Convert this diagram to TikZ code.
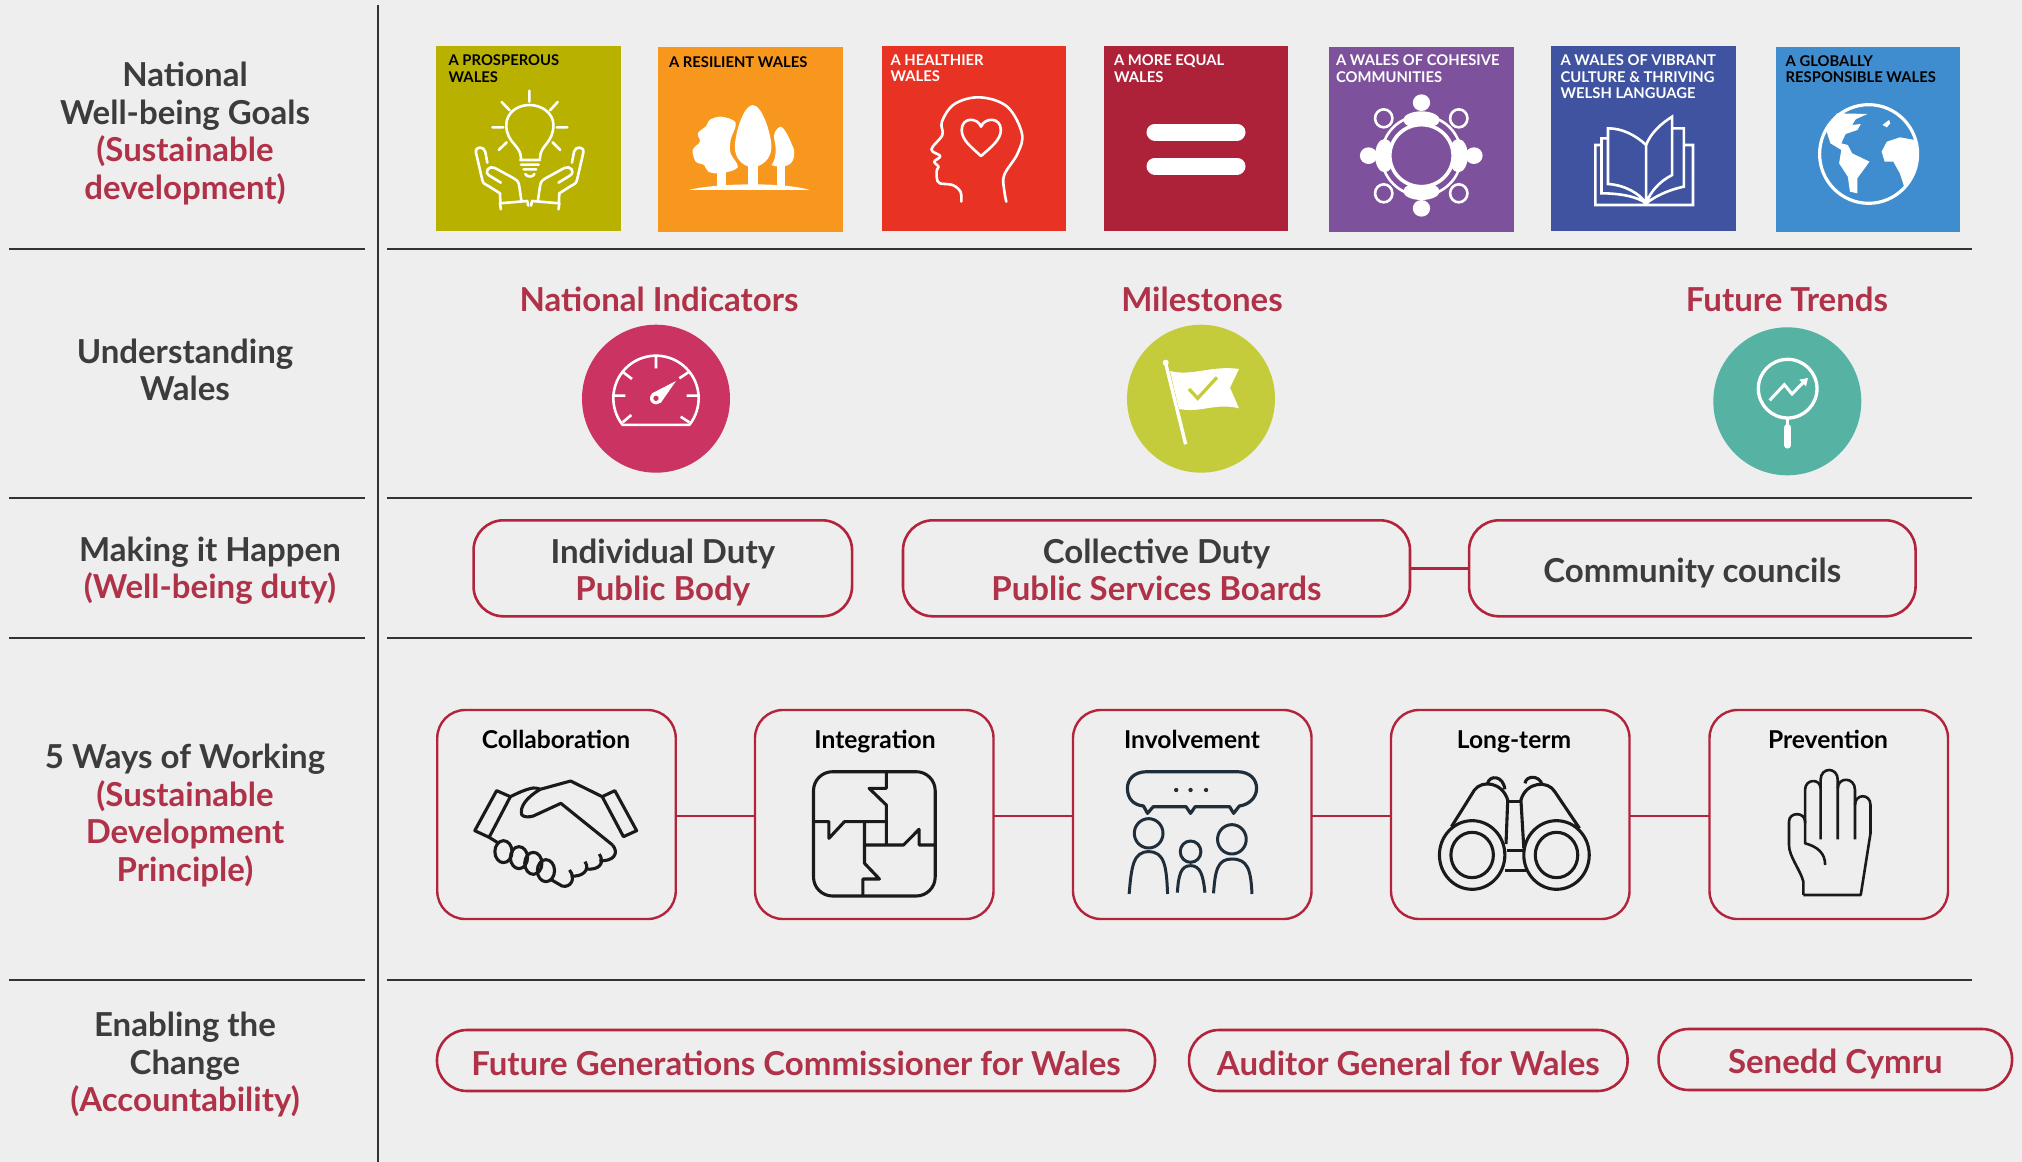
\documentclass[tikz,border=0pt]{standalone}
\usepackage{fontspec}
\setmainfont{Lato}
\definecolor{bg}{HTML}{EEEEEE}
\definecolor{ink}{HTML}{3C3C3C}
\definecolor{wine}{HTML}{B03248}
\definecolor{edgeRed}{HTML}{B2243C}
\definecolor{rulec}{HTML}{333333}
\definecolor{gA}{HTML}{B9B100}
\definecolor{gB}{HTML}{F7971D}
\definecolor{gC}{HTML}{E83324}
\definecolor{gD}{HTML}{AD2239}
\definecolor{gE}{HTML}{7D519B}
\definecolor{gF}{HTML}{3F53A1}
\definecolor{gG}{HTML}{3F8DCE}
\definecolor{cA}{HTML}{CB3362}
\definecolor{cB}{HTML}{C4CC3B}
\definecolor{cC}{HTML}{56B2A3}
\definecolor{iconDark}{HTML}{1A1A1A}
\definecolor{iconBlue}{HTML}{1F2E3A}
\newcommand{\onestrut}{\rule[-5pt]{0pt}{39pt}}
\newcommand{\topstrut}{\rule{0pt}{33pt}}
\newcommand{\botstrut}{\rule[-5pt]{0pt}{5pt}}
\tikzset{
  rowlabel/.style={align=center,inner sep=0pt,outer sep=0pt,text=ink,font=\bfseries\fontsize{33}{37.4}\selectfont},
  headlabel/.style={inner sep=0pt,text=wine,font=\bfseries\fontsize{33}{36}\selectfont},
  duty/.style={draw=edgeRed,line width=2.6pt,rounded corners=30pt,inner sep=0pt,outer sep=0pt,minimum height=96pt,align=center,text=ink,font=\bfseries\fontsize{33}{37}\selectfont},
  pill/.style={draw=edgeRed,line width=2.6pt,rounded corners=30pt,inner sep=0pt,outer sep=0pt,minimum height=61pt,text=wine,font=\bfseries\fontsize{33}{36}\selectfont},
  way/.style={draw=edgeRed,line width=2.4pt,rounded corners=28pt,inner sep=0pt,outer sep=0pt,minimum width=238.5pt,minimum height=209pt},
  waylabel/.style={anchor=base,inner sep=0pt,text=black,font=\bfseries\fontsize{24.6}{28}\selectfont},
  link/.style={edgeRed,line width=2.4pt},
  divider/.style={rulec,line width=1.3pt},
  goal/.style={inner sep=0pt,outer sep=0pt,minimum height=185pt},
  goaltext/.style={anchor=north west,align=left,inner sep=0pt,outer sep=0pt,font=\bfseries\fontsize{14.8}{16.7}\selectfont},
  disc/.style={circle,inner sep=0pt,outer sep=0pt,minimum size=148pt},
  wl/.style={white,line width=2.6pt,line cap=round,line join=round},
  dl/.style={iconDark,line width=3.1pt,line join=round},
  bl/.style={iconBlue,line width=3pt,line join=round},
  zoomA/.style={shift={(420,30)},xscale=.4209,yscale=.3333},
  zoomB/.style={shift={(1310,30)},xscale=.4337,yscale=.3333},
  zoomC/.style={shift={(430,700)},xscale=.574,yscale=.3333},
  zoomD/.style={shift={(1060,700)},xscale=.574,yscale=.3333},
}
\newcommand{\handpath}{%
  \draw[wl] (160,398) -- (155,365) .. controls (152,348) and (130,348) .. (133,368) -- (148,450) .. controls (150,462) and (155,462) .. (165,470) -- (190,490) -- (191,518);
  \draw[wl] (192,538) -- (190,520) -- (255,513) -- (257,527);
  \draw[wl] (241,513) -- (236,470) .. controls (235,455) and (230,450) .. (220,443) -- (178,414) .. controls (165,405) and (150,425) .. (165,437) -- (192,458);
}
\begin{document}
\begin{tikzpicture}[x=1pt,y=-1pt]
\useasboundingbox (0,0) rectangle (2022,1162);
\fill[bg] (0,0) rectangle (2022,1162);

% rules
\draw[rulec,line width=1.6pt] (378,5) -- (378,1162);
\foreach \yy in {249,498,638,980}{
  \draw[divider] (9,\yy) -- (365,\yy);
  \draw[divider] (387,\yy) -- (1972,\yy);
}

% row labels
\node[rowlabel] (r1) at (185,133.5) {National\\Well-being Goals\\\textcolor{wine}{(Sustainable}\\\textcolor{wine}{development)}};
\node[rowlabel] (r2) at (185,370) {Understanding\\Wales};
\node[rowlabel] (r3) at (210,570.5) {Making it Happen\\\textcolor{wine}{(Well-being duty)}};
\node[rowlabel] (r4) at (185,815.5) {5 Ways of Working\\\textcolor{wine}{(Sustainable}\\\textcolor{wine}{Development}\\\textcolor{wine}{Principle)}};
\node[rowlabel] (r5) at (185,1064.5) {Enabling the\\Change\\\textcolor{wine}{(Accountability)}};

% goals
\node[goal,fill=gA,minimum width=185pt] (g1) at (528.5,138.5) {};
\node[goal,fill=gB,minimum width=185pt] (g2) at (750.5,139.5) {};
\node[goal,fill=gC,minimum width=184pt] (g3) at (974,138.5) {};
\node[goal,fill=gD,minimum width=184pt] (g4) at (1196,138.5) {};
\node[goal,fill=gE,minimum width=185pt] (g5) at (1421.5,139.5) {};
\node[goal,fill=gF,minimum width=185pt] (g6) at (1643.8,138.5) {};
\node[goal,fill=gG,minimum width=184pt] (g7) at (1868,139.5) {};
\node[goaltext,text=black] (t1) at (448.6,54.5) {A PROSPEROUS\\WALES};
\node[goaltext,text=black] (t2) at (669,56.3) {A RESILIENT WALES};
\node[goaltext,text=white] (t3) at (890.5,54.5) {A HEALTHIER\\WALES};
\node[goaltext,text=white] (t4) at (1114,54.5) {A MORE EQUAL\\WALES};
\node[goaltext,text=white] (t5) at (1336,54.5) {A WALES OF COHESIVE\\COMMUNITIES};
\node[goaltext,text=white] (t6) at (1560.6,54.5) {A WALES OF VIBRANT\\CULTURE \& THRIVING\\WELSH LANGUAGE};
\node[goaltext,text=black] (t7) at (1785.7,55.3) {A GLOBALLY\\RESPONSIBLE WALES};

% icon: bulb and hands
\begin{scope}[zoomA]
  \draw[wl] (260,182) -- (260,215) (194,216) -- (213,241) (327,216) -- (309,241) (172,292) -- (198,292) (325,292) -- (350,292) (187,360) -- (206,337) (333,360) -- (315,337);
  \draw[wl] (240,385) .. controls (240,345) and (205,340) .. (205,285) .. controls (205,250) and (230,225) .. (260,225) .. controls (290,225) and (317,250) .. (317,285) .. controls (317,340) and (285,345) .. (285,385);
  \draw[wl] (238,390) -- (285,390) (240,404) -- (282,404) (246,418) -- (276,418) (250,432) .. controls (254,442) and (268,442) .. (272,432);
  \handpath
  \begin{scope}[shift={(521,0)},xscale=-1]\handpath\end{scope}
  % trees
  \fill[white] (638,480) .. controls (700,460) and (860,455) .. (926,480) -- cycle;
  \fill[white] (790,225) .. controls (765,230) and (748,320) .. (748,350) .. controls (748,390) and (770,410) .. (790,412) .. controls (810,410) and (835,390) .. (835,350) .. controls (835,320) and (815,225) .. (790,225) -- cycle;
  \fill[white] (780,405) rectangle (802,465);
  \fill[white] (856,290) .. controls (845,295) and (838,315) .. (842,330) .. controls (848,360) and (845,390) .. (835,405) .. controls (845,412) and (865,412) .. (875,405) .. controls (892,395) and (892,360) .. (884,345) .. controls (878,325) and (865,290) .. (856,290) -- cycle;
  \fill[white] (848,405) rectangle (866,470);
  \fill[white] plot[smooth cycle,tension=.55] coordinates {(750,278) (715,260) (688,270) (680,288) (660,310) (665,335) (648,360) (655,395) (675,405) (685,425) (715,430) (755,412) (738,370) (738,330)};
  \fill[white] (706,425) rectangle (727,468);
  % head
  \draw[wl] plot[smooth,tension=.6] coordinates {(1286,515) (1284,485) (1265,465) (1235,460) (1228,445) (1228,420) (1232,410) (1222,395) (1236,378) (1215,358) (1241,315) (1240,275) (1270,222) (1330,202) (1395,230) (1430,310) (1420,370) (1388,435) (1388,480) (1393,515)};
  \draw[wl] (1333,378) .. controls (1310,352) and (1287,330) .. (1287,300) .. controls (1287,260) and (1325,262) .. (1333,290) .. controls (1341,262) and (1380,260) .. (1380,300) .. controls (1380,330) and (1356,352) .. (1333,378) -- cycle;
\end{scope}
% icon: equals
\draw[white,line width=17pt,line cap=round] (1155,132) -- (1237,132) (1155,166) -- (1237,166);
\begin{scope}[zoomB]
  % table
  \draw[white,line width=2.6pt] (257,377) ellipse [x radius=92,y radius=120];
  \foreach \cx/\cy/\rx/\ry in {257/270/42/26, 257/484/42/26, 172/377/22/50, 342/377/22/50, 257/218/20/25, 257/535/20/25, 135/377/20/25, 378/377/20/25}{
    \fill[white] (\cx,\cy) ellipse [x radius=\rx,y radius=\ry];
  }
  \draw[white,line width=3.6pt,fill=gE] (257,377) ellipse [x radius=73,y radius=93];
  \foreach \cx/\cy in {170/265,343/265,170/490,343/490}{
    \draw[white,line width=2.6pt,fill=gE] (\cx,\cy) ellipse [x radius=20,y radius=27];
  }
  % book
  \draw[wl,line cap=butt,line join=miter]
    (775,345) .. controls (750,315) and (720,295) .. (687,295) -- (687,462) .. controls (725,465) and (760,490) .. (775,520)
    (775,345) -- (775,520)
    (775,345) .. controls (785,310) and (810,280) .. (835,260) -- (835,435) .. controls (805,455) and (785,485) .. (775,520)
    (687,325) -- (672,325) -- (672,490) .. controls (715,490) and (755,500) .. (775,520)
    (672,345) -- (658,345) -- (658,525) -- (883,525) -- (883,345) -- (862,345)
    (835,295) -- (862,295) -- (862,470) .. controls (825,480) and (795,500) .. (775,520);
  % globe
  \draw[white,line width=3.2pt] (1288,372) ellipse [x radius=113,y radius=148];
  \fill[white] (1215,250) -- (1285,252) -- (1258,268) -- (1250,285) -- (1270,282) -- (1262,300) -- (1235,312) -- (1225,340) -- (1240,345) -- (1250,370) -- (1290,395) -- (1262,445) -- (1262,490) -- (1245,485) -- (1240,440) -- (1220,400) -- (1225,360) -- (1200,340) -- (1190,300) -- cycle;
  \fill[white] (1318,365) -- (1330,335) -- (1360,322) -- (1395,330) -- (1403,372) -- (1395,425) -- (1370,470) -- (1360,430) -- (1345,395) -- (1325,395) -- cycle;
  \fill[white] (1320,285) -- (1335,270) -- (1338,280) -- (1330,292) -- cycle;
\end{scope}

% understanding wales
\node[headlabel] (h1) at (659,299) {National Indicators};
\node[headlabel] (h2) at (1202,299) {Milestones};
\node[headlabel] (h3) at (1787,299) {Future Trends};
\node[disc,fill=cA] (d1) at (656,398.7) {};
\node[disc,fill=cB] (d2) at (1201,398.7) {};
\node[disc,fill=cC] (d3) at (1787.3,401.3) {};
\begin{scope}[shift={(570,315)},scale=.3333]
  \draw[wl,line cap=butt] plot[domain=141.6:398.4,samples=50] ({258+128*cos(\x)},{250+128*sin(\x)}) -- cycle;
  \draw[wl,line cap=butt] (258,125) -- (258,160) (160,172) -- (186,192) (355,172) -- (328,190) (130,242) -- (166,242) (350,242) -- (385,242) (158,322) -- (184,300) (358,322) -- (332,305);
  \fill[white] (258,250) circle [radius=18];
  \fill[white] (246,235) -- (318,198) -- (272,264) -- cycle;
  \fill[cA] (258,250) circle [radius=8];
\end{scope}
\begin{scope}[shift={(1115,315)},scale=.3333]
  \draw[white,line width=3.4pt] (152,145) -- (212,388);
  \fill[white] (152,143) circle [radius=9];
  \fill[white] (165,168) .. controls (230,185) and (290,150) .. (372,162) -- (345,218) -- (372,280) .. controls (300,262) and (260,295) .. (192,282) -- cycle;
  \draw[cB,line width=3.3pt] (222,222) -- (248,250) -- (306,187);
\end{scope}
\begin{scope}[shift={(1702,318)},scale=.3333]
  \draw[white,line width=3.3pt] (257,212) circle [radius=88];
  \draw[white,line width=2.4pt] (257,300) -- (257,330);
  \draw[white,line width=6.5pt,line cap=round] (257,328) -- (257,382);
  \draw[white,line width=3pt] (203,247) -- (247,200) -- (270,228) -- (305,192);
  \fill[white] (318,180) -- (292,185) -- (312,205) -- cycle;
\end{scope}

% making it happen
\node[duty,minimum width=378.5pt] (b1) at (662.8,568.3) {\topstrut Individual Duty\\\textcolor{wine}{Public Body}\botstrut};
\node[duty,minimum width=507pt] (b2) at (1156.5,568.3) {\topstrut Collective Duty\\\textcolor{wine}{Public Services Boards}\botstrut};
\node[duty,minimum width=446.5pt] (b3) at (1692.3,568.3) {\onestrut Community councils};
\draw[link] (b2) -- (b3);

% ways
\node[way] (w1) at (556.5,814.5) {};
\node[way] (w2) at (874.25,814.5) {};
\node[way] (w3) at (1192.25,814.5) {};
\node[way] (w4) at (1510.25,814.5) {};
\node[way] (w5) at (1828.75,814.5) {};
\draw[link] ([yshift=-1.5pt]w1.east) -- ([yshift=-1.5pt]w2.west);
\draw[link] ([yshift=-1.5pt]w2.east) -- ([yshift=-1.5pt]w3.west);
\draw[link] ([yshift=-1.5pt]w3.east) -- ([yshift=-1.5pt]w4.west);
\draw[link] ([yshift=-1.5pt]w4.east) -- ([yshift=-1.5pt]w5.west);
\node[waylabel] (l1) at (556,748.8) {Collaboration};
\node[waylabel] (l2) at (875,748.8) {Integration};
\node[waylabel] (l3) at (1192,748.8) {Involvement};
\node[waylabel] (l4) at (1514,748.8) {Long-term};
\node[waylabel] (l5) at (1828,748.8) {Prevention};

\begin{scope}[zoomC]
  % handshake
  \draw[dl,fill=bg] (116,272) -- (140,290) -- (103,412) -- (78,392) -- cycle;
  \draw[dl,fill=bg] (322,272) -- (300,290) -- (337,410) -- (360,392) -- cycle;
  \draw[dl] (140,290) .. controls (150,282) and (165,268) .. (180,264) .. controls (187,264) and (190,266) .. (192,268);
  \draw[dl] (192,268) -- (245,243) -- (300,290);
  \draw[dl] (192,268) .. controls (170,290) and (155,320) .. (160,345) .. controls (165,352) and (172,352) .. (180,348) -- (228,310) -- (318,435);
  \draw[dl] (318,435) .. controls (330,460) and (320,485) .. (295,482);
  \draw[dl] (295,462) .. controls (305,490) and (295,512) .. (270,507);
  \draw[dl] (270,485) .. controls (280,510) and (265,532) .. (245,528);
  \draw[dl] (243,510) .. controls (255,535) and (245,565) .. (230,558) -- (212,540);
  \draw[dl] (103,412) -- (118,428);
  \foreach \cx/\cy in {128/455,155/473,180/490,202/512}{
    \draw[dl] (\cx,\cy) ellipse [x radius=15,y radius=33];
  }
  % puzzle
  \draw[dl] (795,218) -- (795,265) -- (765,265) -- (795,315) -- (795,432);
  \draw[dl] (668,365) -- (695,365) -- (695,415) -- (722,365) -- (795,365);
  \draw[dl] (757,365) -- (757,490) -- (783,537) -- (754,537) -- (754,585);
  \draw[dl] (757,435) -- (825,435) -- (852,388) -- (852,435) -- (880,435);
  % people
  \draw[bl,line width=3.2pt] (1250,215) -- (1405,215) .. controls (1430,215) and (1440,240) .. (1440,265) .. controls (1440,295) and (1425,315) .. (1410,318) -- (1400,340) -- (1393,320) -- (1333,320) -- (1325,340) -- (1317,320) -- (1260,320) -- (1250,340) -- (1243,318) .. controls (1225,315) and (1215,295) .. (1215,265) .. controls (1215,240) and (1225,215) .. (1250,215) -- cycle;
  \foreach \cx in {1300,1325,1352}{\fill[iconBlue] (\cx,270) ellipse [x radius=3.8,y radius=6.5];}
  \draw[bl] (1252,400) ellipse [x radius=25,y radius=44];
  \draw[bl] (1325,455) ellipse [x radius=18,y radius=32];
  \draw[bl] (1397,418) ellipse [x radius=25,y radius=44];
  \draw[bl] (1218,582) .. controls (1222,500) and (1225,455) .. (1252,455) .. controls (1280,455) and (1283,500) .. (1285,582);
  \draw[bl] (1302,578) .. controls (1304,525) and (1308,497) .. (1325,497) .. controls (1342,497) and (1347,525) .. (1350,578);
  \draw[bl] (1365,580) .. controls (1368,510) and (1372,477) .. (1397,477) .. controls (1425,477) and (1430,510) .. (1432,582);
\end{scope}
\draw[dl,rounded corners=19pt] (813.5,771.7) rectangle (935.2,896);
\begin{scope}[zoomD]
  % binoculars
  \draw[dl] (718,465) ellipse [x radius=57,y radius=103];
  \draw[dl] (718,465) ellipse [x radius=37,y radius=68];
  \draw[dl] (865,465) ellipse [x radius=57,y radius=103];
  \draw[dl] (865,465) ellipse [x radius=37,y radius=68];
  \draw[dl] (682,380) -- (722,270) .. controls (735,240) and (770,245) .. (780,300) -- (777,432);
  \draw[dl] (905,385) -- (862,275) .. controls (850,240) and (812,245) .. (803,300) -- (808,445);
  \draw[dl] (745,250) .. controls (748,225) and (772,225) .. (775,268);
  \draw[dl] (810,250) .. controls (812,225) and (836,225) .. (840,255);
  \draw[dl] (780,305) -- (803,305) (778,452) -- (806,452) (775,512) -- (812,512);
  % hand
  \draw[dl,line width=2.6pt] (1295,585) -- (1295,545) .. controls (1290,510) and (1270,470) .. (1270,435) -- (1270,365) .. controls (1270,335) and (1298,335) .. (1298,365) -- (1298,430) .. controls (1320,440) and (1333,460) .. (1333,495);
  \draw[dl,line width=2.6pt] (1298,370) -- (1298,270) .. controls (1298,235) and (1325,235) .. (1325,265);
  \draw[dl,line width=2.6pt] (1325,418) -- (1325,240) .. controls (1325,200) and (1355,200) .. (1355,240) -- (1355,418);
  \draw[dl,line width=2.6pt] (1355,265) .. controls (1355,230) and (1385,230) .. (1385,270) -- (1385,418);
  \draw[dl,line width=2.6pt] (1385,315) .. controls (1385,280) and (1412,280) .. (1412,315) -- (1412,400) -- (1395,585) -- (1295,585);
\end{scope}

% enabling the change
\node[pill,minimum width=718pt] (p1) at (796,1060.5) {\onestrut Future Generations Commissioner for Wales};
\node[pill,minimum width=438.5pt] (p2) at (1408.3,1060.5) {\onestrut Auditor General for Wales};
\node[pill,minimum width=353.5pt] (p3) at (1835.3,1059.5) {\onestrut Senedd Cymru};
\end{tikzpicture}
\end{document}
